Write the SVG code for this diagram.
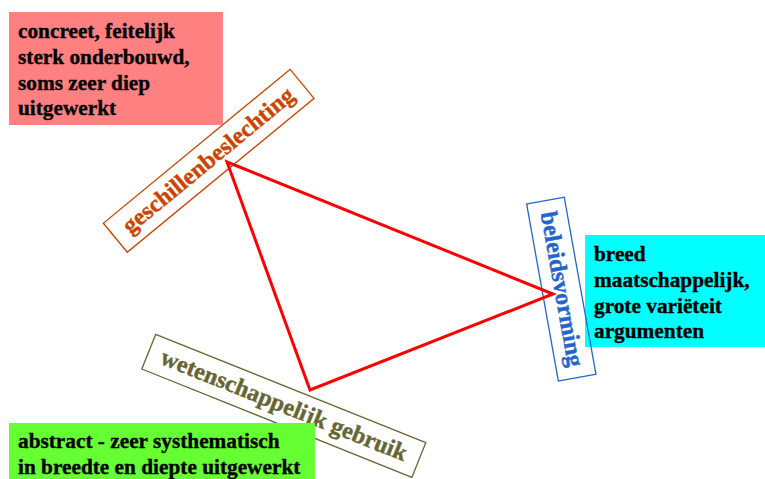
<svg xmlns="http://www.w3.org/2000/svg" width="765" height="479" viewBox="0 0 765 479">
  <style>
    .note { font-family: "Liberation Serif", "Times New Roman", serif; font-weight: bold; font-size: 21.3px; fill: #000; stroke: #000; stroke-width: 0.35px; }
    .label { font-family: "Liberation Serif", "Times New Roman", serif; font-weight: bold; font-size: 24px; text-anchor: middle; stroke-width: 0.4px; }
    .frame { fill: none; stroke-width: 1.3; }
    .edge { fill: none; stroke: #ff0000; stroke-width: 3; stroke-linejoin: miter; }
  </style>
  <rect width="765" height="479" fill="#ffffff"/>

  <!-- note: broad societal view -->
  <g id="note-beleid">
    <rect x="585" y="235" width="180" height="112" fill="#00ffff"/>
    <text class="note" x="594" y="261">breed</text>
    <text class="note" x="594" y="287">maatschappelijk,</text>
    <text class="note" x="594" y="313">grote variëteit</text>
    <text class="note" x="594" y="338">argumenten</text>
  </g>

  <!-- rotated corner labels -->
  <g id="node-geschillenbeslechting" transform="translate(208.7,160.8) rotate(-39.5)">
    <rect class="frame" x="-121" y="-18.8" width="242" height="37.6" stroke="#cc4400"/>
    <text class="label" x="0" y="7" fill="#cc4400" stroke="#cc4400">geschillenbeslechting</text>
  </g>
  <g id="node-beleidsvorming" transform="translate(561.3,289.2) rotate(79.85)">
    <rect class="frame" x="-89.9" y="-19.1" width="179.8" height="38.2" stroke="#2266cc"/>
    <text class="label" x="0" y="7" fill="#2266cc" stroke="#2266cc">beleidsvorming</text>
  </g>
  <g id="node-wetenschappelijk" transform="translate(283.8,405.8) rotate(21.85)">
    <rect class="frame" x="-145.5" y="-18.7" width="291" height="37.4" stroke="#666633"/>
    <text class="label" x="0" y="7" fill="#666633" stroke="#666633">wetenschappelijk gebruik</text>
  </g>

  <!-- connectors: triangle between the three corners -->
  <g id="connectors">
    <polygon class="edge" points="227,162 553,294 310,390"/>
  </g>

  <!-- note: concrete -->
  <g id="note-geschillen">
    <rect x="9" y="12" width="214" height="113" fill="#ff8080"/>
    <text class="note" x="18" y="37.5">concreet, feitelijk</text>
    <text class="note" x="18" y="63.5">sterk onderbouwd,</text>
    <text class="note" x="18" y="89.5">soms zeer diep</text>
    <text class="note" x="18" y="115">uitgewerkt</text>
  </g>

  <!-- note: abstract -->
  <g id="note-wetenschap">
    <rect x="9" y="423" width="306" height="56" fill="#66ff33"/>
    <text class="note" x="18" y="448">abstract - zeer systhematisch</text>
    <text class="note" x="18" y="474">in breedte en diepte uitgewerkt</text>
  </g>
</svg>
